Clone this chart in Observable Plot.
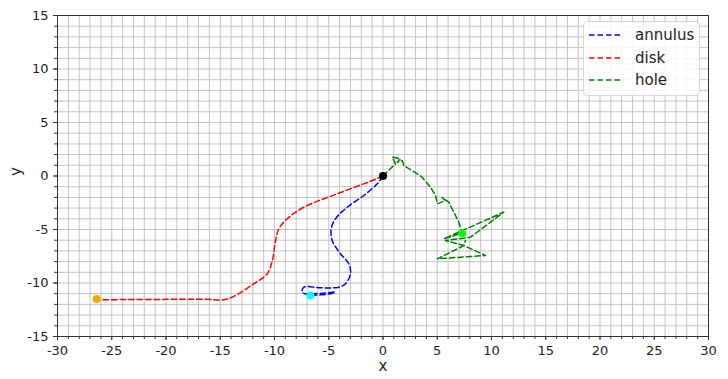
<!DOCTYPE html>
<html>
<head>
<meta charset="utf-8">
<script src="https://cdn.jsdelivr.net/npm/d3@7"></script>
<script src="https://cdn.jsdelivr.net/npm/@observablehq/plot@0.6"></script>
<style>
  html, body { margin: 0; padding: 0; background: #fff; }
  #wrap { position: relative; width: 728px; height: 379px; font-family: "DejaVu Sans", sans-serif; }
  #legend { position: absolute; left: 583px; top: 21px; width: 117px; height: 75px; box-sizing: border-box;
    background: rgba(255,255,255,0.85); border: 1px solid #d6d6d6; border-radius: 4px; font-size: 15px; color: #222; }
  .item { position: absolute; left: 5px; height: 18px; display: flex; align-items: center; }
  .item span { margin-left: 14px; }
</style>
</head>
<body>
<div id="wrap"><div id="chart"></div><div id="legend"></div></div>
<script>
// Series data
const seriesNames = ["annulus", "disk", "hole"];
const seriesColors = ["#0000ff", "#ff0000", "#008000"];

const annulusX = [0, -0.53, -1.77, -3.3, -4.38, -4.77, -4.68, -3.92, -3.15, -3.0, -3.46, -4.07, -5.76, -7.3, -7.45, -7.2, -5.5, -4.4, -4.84, -6.68];
const annulusY = [0, -0.73, -1.82, -2.92, -4.0, -4.93, -6.03, -7.27, -8.2, -9.14, -10.07, -10.39, -10.45, -10.39, -10.86, -11.0, -10.95, -10.85, -11.0, -11.17];

const diskX = [0, -1.15, -4.22, -7.3, -8.83, -9.6, -9.9, -10.2, -10.67, -11.9, -14.36, -16.5, -20, -23.5, -26.34];
const diskY = [0, -0.49, -1.66, -2.92, -4.0, -4.93, -6.03, -7.9, -9.14, -10.07, -11.5, -11.52, -11.53, -11.55, -11.56];

const holeX = [0, 1.15, 0.85, 1.61, 1.31, 1.77, 1.92, 2.69, 3.61, 4.38, 4.84, 5.0, 5.76, 5.45, 6.06, 6.53, 6.99, 7.3, 5.6, 11.13, 8.06, 5.76, 7.45, 9.45, 5.0, 7.45, 7.6];
const holeY = [0, 1.14, 1.76, 1.61, 1.29, 1.45, 0.98, 0.51, -0.11, -1.05, -1.82, -2.6, -2.29, -2.0, -2.45, -3.38, -4.32, -5.35, -5.87, -3.38, -5.72, -6.03, -6.5, -7.43, -7.74, -6.5, -6.03];

// Endpoint markers
const markerX = [0, -26.4, -6.68, 7.3];
const markerY = [0, -11.5, -11.17, -5.35];
const markerColors = ["black", "orange", "cyan", "lime"];

const xTicks = d3.range(-30, 31, 5);
const yTicks = d3.range(-15, 16, 5);
const xMinor = d3.range(-30, 31, 1);
const yMinor = d3.range(-15, 16, 1);

const toPts = (xs, ys) => xs.map((x, i) => ({x, y: ys[i]}));
const annulus = toPts(annulusX, annulusY);
const disk = toPts(diskX, diskY);
const hole = toPts(holeX, holeY);
const markers = markerX.map((x, i) => ({x, y: markerY[i], c: markerColors[i]}));

const dash = "5.5,3";
const fmt = d => String(d).replace("−", "-");
const chart = Plot.plot({
  width: 728, height: 379,
  marginLeft: 57, marginRight: 20, marginTop: 15, marginBottom: 43,
  style: {fontFamily: "DejaVu Sans, sans-serif", fontSize: "13px", color: "#222", background: "white"},
  x: {domain: [-30, 30], label: null},
  y: {domain: [-15, 15], label: null},
  marks: [
    Plot.gridX(xMinor, {stroke: "#bdbdbd", strokeOpacity: 1, strokeWidth: 0.9}),
    Plot.gridY(yMinor, {stroke: "#bdbdbd", strokeOpacity: 1, strokeWidth: 0.9}),
    Plot.line(disk, {x: "x", y: "y", stroke: seriesColors[1], strokeWidth: 1.5, strokeDasharray: dash, curve: "catmull-rom"}),
    Plot.line(annulus, {x: "x", y: "y", stroke: seriesColors[0], strokeWidth: 1.5, strokeDasharray: dash, curve: "catmull-rom"}),
    Plot.line(hole, {x: "x", y: "y", stroke: seriesColors[2], strokeWidth: 1.5, strokeDasharray: dash, curve: "linear"}),
    Plot.dot(markers, {x: "x", y: "y", fill: "c", r: 4, stroke: null}),
    Plot.axisX(xMinor, {tickSize: 3, text: null, stroke: "#333"}),
    Plot.axisY(yMinor, {tickSize: 3, text: null, stroke: "#333"}),
    Plot.axisX(xTicks, {tickSize: 4, tickFormat: fmt, fontSize: 13, label: null, stroke: "#333", fill: "#222"}),
    Plot.axisY(yTicks, {tickSize: 4, tickFormat: fmt, fontSize: 13, label: null, stroke: "#333", fill: "#222"}),
    Plot.frame({stroke: "#333", strokeWidth: 1}),
    Plot.text(["x"], {frameAnchor: "bottom", dy: 34, fontSize: 15, fill: "#222"}),
    Plot.text(["y"], {frameAnchor: "left", dx: -41, rotate: -90, fontSize: 15, fill: "#222"})
  ]
});
document.getElementById("chart").appendChild(chart);

const legend = document.getElementById("legend");
seriesNames.forEach((name, i) => {
  const it = document.createElement("div");
  it.className = "item";
  it.style.top = (4 + i * 22.5) + "px";
  it.innerHTML = `<svg width="32" height="4"><line x1="0" y1="2" x2="32" y2="2" stroke="${seriesColors[i]}" stroke-width="1.5" stroke-dasharray="${dash}"/></svg><span>${name}</span>`;
  legend.appendChild(it);
});
</script>
</body>
</html>
